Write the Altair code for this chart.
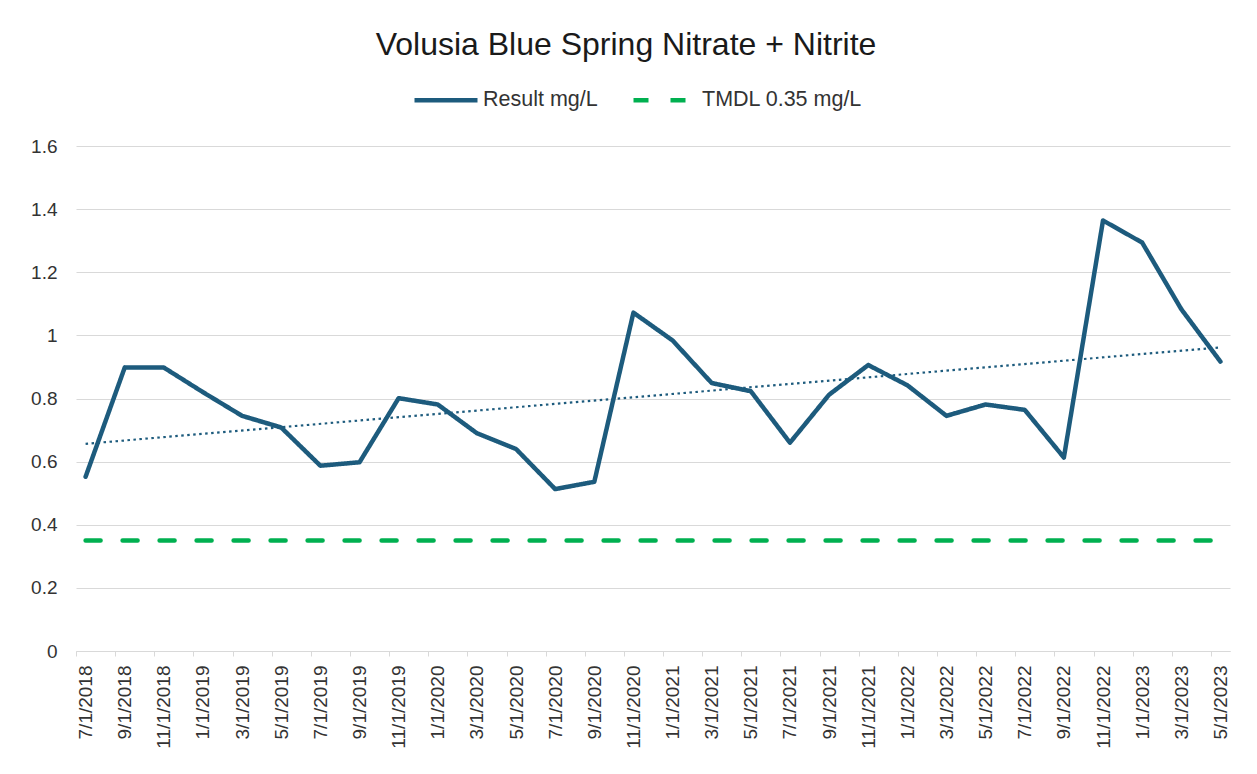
import altair as alt
import pandas as pd

dates = ["7/1/2018", "9/1/2018", "11/1/2018", "1/1/2019", "3/1/2019", "5/1/2019",
         "7/1/2019", "9/1/2019", "11/1/2019", "1/1/2020", "3/1/2020", "5/1/2020",
         "7/1/2020", "9/1/2020", "11/1/2020", "1/1/2021", "3/1/2021", "5/1/2021",
         "7/1/2021", "9/1/2021", "11/1/2021", "1/1/2022", "3/1/2022", "5/1/2022",
         "7/1/2022", "9/1/2022", "11/1/2022", "1/1/2023", "3/1/2023", "5/1/2023"]
results = [0.552, 0.898, 0.898, 0.820, 0.745, 0.708, 0.587, 0.598, 0.801, 0.781,
           0.690, 0.640, 0.513, 0.536, 1.072, 0.984, 0.849, 0.823, 0.660, 0.812,
           0.906, 0.842, 0.745, 0.781, 0.764, 0.613, 1.364, 1.294, 1.083, 0.917]
tmdl_value = 0.35
series_names = ["Result mg/L", "TMDL 0.35 mg/L"]
y_ticks = [0, 0.2, 0.4, 0.6, 0.8, 1.0, 1.2, 1.4, 1.6]

BLUE = "#1d5b7d"
GREEN = "#00b050"
FONT = "Liberation Sans"
TEXT = "#333333"
PAD = 0.245

rows = []
for i, (d, v) in enumerate(zip(dates, results)):
    rows.append({"idx": i, "date": d, "series": series_names[0], "value": v})
for i, d in enumerate(dates):
    rows.append({"idx": i, "date": d, "series": series_names[1], "value": tmdl_value})
df = pd.DataFrame(rows)
df_result = df[df["series"] == series_names[0]]

x_enc = alt.X(
    "date:O",
    sort=dates,
    scale=alt.Scale(type="point", padding=PAD),
    axis=alt.Axis(labelAngle=-90, grid=False, title=None, labelFontSize=19, labelColor=TEXT,
                  labelPadding=9, tickSize=5, domainColor="#d9d9d9", tickColor="#d9d9d9",
                  labelFont=FONT, labelLimit=0, labelOverlap=False,
                  tickOffset=-9.5, labelOffset=9.5),
)
y_enc = alt.Y(
    "value:Q",
    scale=alt.Scale(domain=[0, 1.6], nice=False),
    axis=alt.Axis(values=y_ticks, format="~g", title=None, domain=False, ticks=False,
                  labelFontSize=19, labelColor=TEXT, labelPadding=19,
                  gridColor="#d9d9d9", labelFont=FONT, labelOverlap=False),
)

legend = alt.Legend(
    title=None, orient="none", direction="horizontal", legendX=336, legendY=-80,
    symbolType="stroke", symbolSize=3969, symbolStrokeWidth=4.5, labelFontSize=21.5,
    labelFont=FONT, labelColor=TEXT, columnPadding=26, labelOffset=3, labelLimit=0,
)

lines = alt.Chart(df).mark_line(strokeWidth=4.5, strokeCap="round", strokeJoin="round").encode(
    x=x_enc,
    y=y_enc,
    color=alt.Color("series:N", scale=alt.Scale(domain=series_names, range=[BLUE, GREEN]),
                    legend=legend),
    strokeDash=alt.StrokeDash("series:N",
                              scale=alt.Scale(domain=series_names, range=[[1, 0], [15, 22]]),
                              legend=legend),
)

trend = alt.Chart(df_result).transform_regression("idx", "value").mark_line(
    strokeDash=[2.5, 3.5], strokeWidth=2.2, color=BLUE
).encode(
    x=alt.X("idx:Q", scale=alt.Scale(domain=[-PAD, len(dates) - 1 + PAD], nice=False, zero=False),
            axis=None),
    y=alt.Y("value:Q"),
)

chart = alt.layer(lines, trend).resolve_scale(x="independent").properties(
    width=1154,
    height=505,
    background="white",
    title=alt.Title("Volusia Blue Spring Nitrate + Nitrite", fontSize=32, font=FONT,
                    fontWeight="normal", color="#1a1a1a", anchor="middle", offset=4, dx=-27),
    autosize=alt.AutoSizeParams(type="none"),
    padding={"left": 68, "top": 138, "right": 19, "bottom": 115},
).configure_view(stroke=None)

chart.save("out.html", embed_options={"renderer": "svg", "actions": False})
